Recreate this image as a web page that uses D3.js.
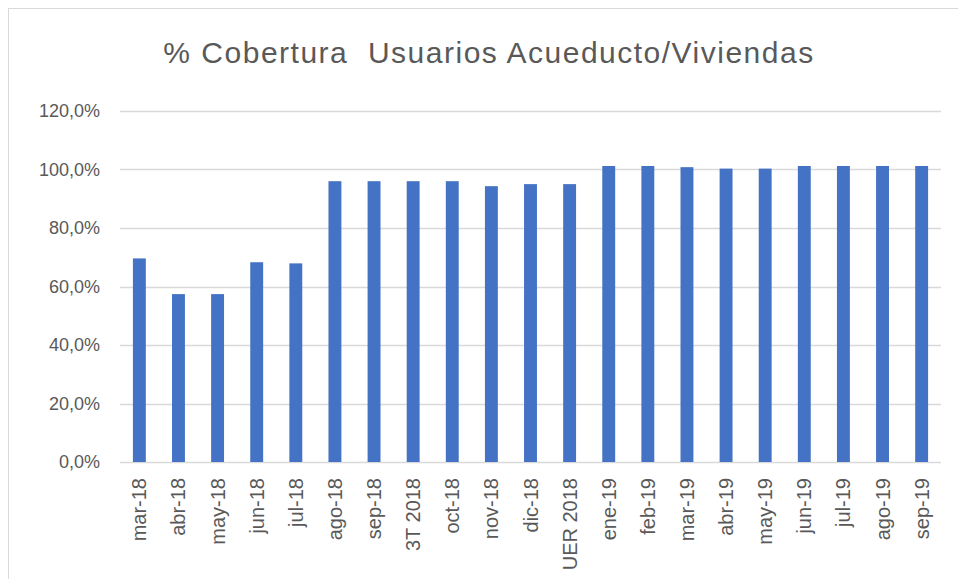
<!DOCTYPE html>
<meta charset="utf-8">
<style>
  body { margin: 0; background: #fff; }
  text { font-family: "Liberation Sans", Arial, sans-serif; fill: #595959; }
  .grid line { stroke: #d9d9d9; stroke-width: 1.3px; }
  .bar { fill: #4472c4; }
</style>
<svg width="958" height="579"></svg>
<script src="https://d3js.org/d3.v7.min.js"></script>
<script>
  var categories = ["mar-18", "abr-18", "may-18", "jun-18", "jul-18", "ago-18", "sep-18",
    "3T 2018", "oct-18", "nov-18", "dic-18", "UER 2018", "ene-19", "feb-19", "mar-19",
    "abr-19", "may-19", "jun-19", "jul-19", "ago-19", "sep-19"];
  var coverage = [69.6, 57.4, 57.4, 68.3, 67.9, 96.0, 96.0, 96.0, 96.0, 94.3, 95.0, 95.0,
    101.2, 101.2, 100.8, 100.3, 100.3, 101.2, 101.2, 101.2, 101.2];
  var yTicks = [0, 20, 40, 60, 80, 100, 120];
  var title = "% Cobertura  Usuarios Acueducto/Viviendas";

  var svg = d3.select("svg");
  var margin = { top: 111, right: 17, bottom: 117, left: 120 },
    width = +svg.attr("width") - margin.left - margin.right,
    height = +svg.attr("height") - margin.top - margin.bottom;

  // chart frame
  svg.append("rect")
    .attr("x", 8.5).attr("y", 8.5)
    .attr("width", 960).attr("height", 590)
    .attr("fill", "none")
    .attr("stroke", "#d9d9d9");

  svg.append("text")
    .attr("x", 489)
    .attr("y", 63)
    .attr("text-anchor", "middle")
    .style("font-size", "30px")
    .style("letter-spacing", "1.5px")
    .style("white-space", "pre")
    .attr("xml:space", "preserve")
    .text(title);

  var x = d3.scaleBand()
    .domain(categories)
    .range([0, width])
    .paddingInner(0.67)
    .paddingOuter(0.33);

  var y = d3.scaleLinear()
    .domain([0, 120])
    .range([height, 0]);

  var g = svg.append("g")
    .attr("transform", "translate(" + margin.left + "," + margin.top + ")");

  g.append("g")
    .attr("class", "grid")
    .selectAll("line")
    .data(yTicks)
    .enter().append("line")
    .attr("x1", 0)
    .attr("x2", width)
    .attr("y1", function (d) { return Math.round(y(d)) + 0.5; })
    .attr("y2", function (d) { return Math.round(y(d)) + 0.5; });

  var fmt = function (d) { return d.toFixed(1).replace(".", ",") + "%"; };

  g.append("g")
    .selectAll("text")
    .data(yTicks)
    .enter().append("text")
    .attr("x", -20)
    .attr("y", function (d) { return y(d); })
    .attr("dy", "0.35em")
    .attr("text-anchor", "end")
    .style("font-size", "18px")
    .text(fmt);

  g.selectAll(".bar")
    .data(coverage)
    .enter().append("rect")
    .attr("class", "bar")
    .attr("x", function (d, i) { return x(categories[i]); })
    .attr("width", x.bandwidth())
    .attr("y", function (d) { return y(d); })
    .attr("height", function (d) { return height - y(d); });

  g.append("g")
    .selectAll("text")
    .data(categories)
    .enter().append("text")
    .attr("transform", function (d) {
      return "translate(" + (x(d) + x.bandwidth() / 2) + "," + (height + 16) + ") rotate(-90)";
    })
    .attr("dy", "0.35em")
    .attr("text-anchor", "end")
    .style("font-size", "20px")
    .text(function (d) { return d; });
</script>
